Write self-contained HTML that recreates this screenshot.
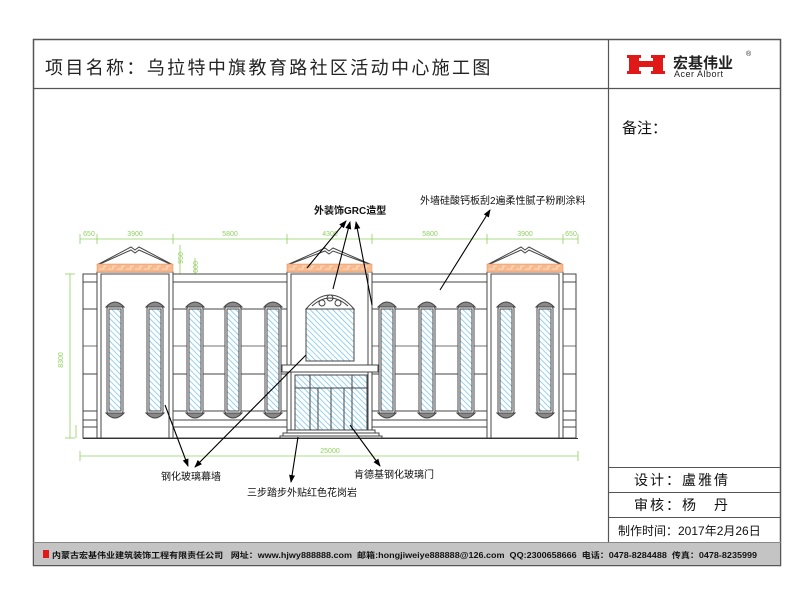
<!DOCTYPE html>
<html><head><meta charset="utf-8"><style>
body{margin:0;background:#fff;}
svg{display:block;}
text{font-family:"Liberation Sans","Noto Sans CJK SC",sans-serif;}
</style></head><body>
<svg width="800" height="600" viewBox="0 0 800 600" xmlns="http://www.w3.org/2000/svg">
<defs>
<pattern id="h" width="4" height="4" patternUnits="userSpaceOnUse" patternTransform="rotate(-45)">
<line x1="0" y1="0" x2="0" y2="4" stroke="#5cbcec" stroke-width="1.3"/>
</pattern>
<marker id="a" markerWidth="8" markerHeight="8" refX="7" refY="4" orient="auto" markerUnits="userSpaceOnUse"><path d="M0,1 L8,4 L0,7 Z" fill="#000"/></marker>
</defs>
<rect x="0" y="0" width="800" height="600" fill="#fff"/>
<!-- frame -->
<rect x="33.5" y="39.5" width="747" height="526" fill="none" stroke="#555" stroke-width="1.5"/>
<line x1="33" y1="88.5" x2="781" y2="88.5" stroke="#555" stroke-width="1.2"/>
<line x1="608.5" y1="39" x2="608.5" y2="542" stroke="#555" stroke-width="1.2"/>
<line x1="608" y1="467.5" x2="781" y2="467.5" stroke="#555"/>
<line x1="608" y1="492.5" x2="781" y2="492.5" stroke="#555"/>
<line x1="608" y1="517.5" x2="781" y2="517.5" stroke="#555"/>
<rect x="34" y="542" width="746" height="23" fill="#c4c4c4"/>
<line x1="33" y1="542.5" x2="781" y2="542.5" stroke="#888"/>
<text x="45" y="74" font-size="18" letter-spacing="4.6" fill="#222" font-family="Noto Serif CJK SC, serif" textLength="450" lengthAdjust="spacing">项目名称：乌拉特中旗教育路社区活动中心施工图</text>
<!-- logo -->
<g fill="#e01818">
<rect x="629" y="55" width="10" height="19"/><rect x="653" y="55" width="10" height="19"/>
<rect x="627" y="55" width="14" height="3"/><rect x="651" y="55" width="14" height="3"/>
<rect x="627" y="71" width="14" height="3"/><rect x="651" y="71" width="14" height="3"/>
<rect x="639" y="61" width="14" height="6"/>
</g>
<text x="673" y="68" font-size="15" font-weight="bold" fill="#222" font-family="Noto Serif CJK SC, serif">宏基伟业</text>
<text x="746" y="56" font-size="7" fill="#222">®</text>
<text x="674" y="77" font-size="9" fill="#222" letter-spacing="0.5">Acer Albort</text>
<text x="622" y="133" font-size="15" fill="#111">备注：</text>
<text x="634" y="485" font-size="14" fill="#111" letter-spacing="2">设计：盧雅倩</text>
<text x="634" y="510" font-size="14" fill="#111" letter-spacing="2">审核：杨　丹</text>
<text x="618" y="535" font-size="12" fill="#111">制作时间：2017年2月26日</text>
<!-- footer -->
<rect x="43" y="550" width="6" height="8" fill="#e01818"/>
<text x="52" y="558" font-size="8" fill="#111" font-weight="bold" textLength="705" lengthAdjust="spacingAndGlyphs" xml:space="preserve">内蒙古宏基伟业建筑装饰工程有限责任公司   网址：www.hjwy888888.com  邮箱:hongjiweiye888888@126.com  QQ:2300658666  电话：0478-8284488  传真：0478-8235999</text>

<!-- dimensions (green) -->
<g stroke="#8fd060" stroke-width="0.8" fill="none">
<line x1="80" y1="239" x2="578" y2="239"/>
<line x1="80" y1="456" x2="578" y2="456"/>
<line x1="70" y1="274" x2="70" y2="438"/>
<line x1="80" y1="234" x2="80" y2="244"/><line x1="97" y1="234" x2="97" y2="244"/><line x1="173" y1="234" x2="173" y2="244"/><line x1="287" y1="234" x2="287" y2="244"/><line x1="372" y1="234" x2="372" y2="244"/><line x1="487" y1="234" x2="487" y2="244"/><line x1="563" y1="234" x2="563" y2="244"/><line x1="578" y1="234" x2="578" y2="244"/>
<line x1="80" y1="451" x2="80" y2="461"/><line x1="578" y1="451" x2="578" y2="461"/>
<line x1="65" y1="274" x2="75" y2="274"/><line x1="65" y1="438" x2="75" y2="438"/>
<line x1="83" y1="297" x2="140" y2="297"/><line x1="173" y1="293" x2="215" y2="293"/><line x1="306" y1="283" x2="354" y2="283"/>
<line x1="125" y1="309" x2="125" y2="411"/><line x1="360" y1="309" x2="360" y2="360"/>
<line x1="180" y1="245" x2="180" y2="275"/><line x1="195" y1="258" x2="195" y2="275"/>
<line x1="122" y1="424" x2="148" y2="424"/><line x1="295" y1="436" x2="367" y2="436"/>
<line x1="89" y1="418" x2="89" y2="438"/><line x1="76" y1="425" x2="76" y2="438"/>
</g>
<g fill="#8fd060" font-size="7" text-anchor="middle">
<text x="89" y="236">650</text><text x="135" y="236">3900</text><text x="230" y="236">5800</text><text x="330" y="236">4300</text><text x="430" y="236">5800</text><text x="525" y="236">3900</text><text x="571" y="236">650</text>
<text x="330" y="453">25000</text>
<text x="95" y="295">1200</text><text x="118" y="295">800</text><text x="135" y="295">1200</text>
<text x="195" y="291">250 1175</text><text x="185" y="300">725</text>
<text x="330" y="281">2350</text>
<text x="280" y="295">350</text><text x="290" y="355">250</text>
<text x="135" y="422">1200</text>
<text x="330" y="434">5100</text>
<text x="63" y="360" transform="rotate(-90 63 360)">8300</text>
<text x="122" y="360" transform="rotate(-90 122 360)">5100</text>
<text x="363" y="335" transform="rotate(-90 363 335)">2520</text>
<text x="183" y="258" transform="rotate(-90 183 258)">950</text>
<text x="198" y="267" transform="rotate(-90 198 267)">600</text>
<text x="292" y="400" transform="rotate(-90 292 400)">2250</text>
</g>

<!-- building -->
<g stroke="#444" stroke-width="1" fill="none">
<rect x="83" y="274" width="493" height="164" fill="#fff"/>
<line x1="83" y1="282" x2="576" y2="282"/>
<line x1="83" y1="309" x2="576" y2="309"/>
<line x1="83" y1="346" x2="576" y2="346" stroke-width="0.8"/>
<line x1="83" y1="374" x2="576" y2="374"/>
<line x1="83" y1="411" x2="576" y2="411"/>
<line x1="83" y1="420" x2="576" y2="420"/>
<line x1="83" y1="427" x2="576" y2="427"/>
<rect x="97" y="272" width="76" height="166" fill="#fff"/>
<rect x="101" y="274" width="68" height="164"/>
<rect x="287" y="272" width="85" height="166" fill="#fff"/>
<rect x="291" y="274" width="77" height="164"/>
<rect x="487" y="272" width="76" height="166" fill="#fff"/>
<rect x="491" y="274" width="68" height="164"/>
<polyline points="97,265 131,247 135,250 139,247 173,265" /><polyline points="100,264 131,250 135,253 139,250 170,264"/>
<polyline points="287,265 325,248 329,251 333,248 372,265" /><polyline points="290,264 325,251 329,254 333,251 369,264"/>
<polyline points="487,265 521,247 525,250 529,247 563,265" /><polyline points="490,264 521,250 525,253 529,250 560,264"/>
</g>
<g fill="#f7b98e" stroke="#e08a50" stroke-width="0.5">
<rect x="97" y="264" width="76" height="8"/>
<rect x="287" y="264" width="85" height="8"/>
<rect x="487" y="264" width="76" height="8"/>
</g>
<g stroke="#fff" stroke-width="0.6" fill="none">
<path d="M99,269 h5 v-3 h3 M108,269 h5 v-3 h3 M117,269 h5 v-3 h3 M126,269 h5 v-3 h3 M135,269 h5 v-3 h3 M144,269 h5 v-3 h3 M153,269 h5 v-3 h3 M162,269 h5 v-3 h3"/>
<path d="M289,269 h5 v-3 h3 M298,269 h5 v-3 h3 M307,269 h5 v-3 h3 M316,269 h5 v-3 h3 M325,269 h5 v-3 h3 M334,269 h5 v-3 h3 M343,269 h5 v-3 h3 M352,269 h5 v-3 h3 M361,269 h5 v-3 h3"/>
<path d="M489,269 h5 v-3 h3 M498,269 h5 v-3 h3 M507,269 h5 v-3 h3 M516,269 h5 v-3 h3 M525,269 h5 v-3 h3 M534,269 h5 v-3 h3 M543,269 h5 v-3 h3 M552,269 h5 v-3 h3"/>
</g>
<!-- windows -->
<g stroke="#444" stroke-width="1">
<g id="w"><rect x="107" y="305" width="16" height="110" rx="4" fill="#fff"/><rect x="109" y="309" width="12" height="102" fill="url(#h)"/><path d="M106,307 q9,-10 18,0 z M106,413 q9,10 18,0 z" fill="#888"/></g>
<use href="#w" x="40"/><use href="#w" x="80"/><use href="#w" x="118"/><use href="#w" x="158"/>
<use href="#w" x="272"/><use href="#w" x="312"/><use href="#w" x="351"/><use href="#w" x="391"/><use href="#w" x="430"/>
<rect x="306" y="309" width="48" height="52" fill="url(#h)"/>
<rect x="306" y="309" width="48" height="52" fill="none"/>
<path d="M306,309 q24,-28 48,0 z" fill="#fff"/>
<path d="M312,306 q18,-16 36,0" fill="none"/><circle cx="322" cy="303" r="3" fill="none"/><circle cx="338" cy="303" r="3" fill="none"/><circle cx="330" cy="298" r="3" fill="none"/>
<rect x="282" y="365" width="96" height="7" fill="#fff"/>
<rect x="295" y="375" width="72" height="55" fill="url(#h)"/>
<rect x="295" y="375" width="72" height="55" fill="none"/>
<line x1="295" y1="388" x2="367" y2="388"/>
<line x1="310" y1="375" x2="310" y2="430"/><line x1="352" y1="375" x2="352" y2="430"/>
<line x1="318" y1="388" x2="318" y2="430"/><line x1="331" y1="388" x2="331" y2="430"/><line x1="344" y1="388" x2="344" y2="430"/>
<rect x="287" y="430" width="88" height="3" fill="#fff"/><rect x="283" y="433" width="96" height="3" fill="#fff"/><rect x="280" y="436" width="102" height="2" fill="#fff"/>
</g>
<line x1="83" y1="438.5" x2="578" y2="438.5" stroke="#333" stroke-width="1"/>

<!-- annotations -->
<g stroke="#000" stroke-width="1.1" fill="none" marker-end="url(#a)">
<line x1="307" y1="268" x2="346" y2="221"/>
<line x1="333" y1="289" x2="350" y2="222"/>
<line x1="372" y1="305" x2="356" y2="222"/>
<line x1="440" y1="290" x2="490" y2="210"/>
<line x1="165" y1="405" x2="188" y2="466"/>
<line x1="306" y1="355" x2="195" y2="467"/>
<line x1="298" y1="437" x2="291" y2="482"/>
<line x1="350" y1="425" x2="380" y2="466"/>
</g>
<g font-size="10" fill="#111">
<text x="314" y="214" font-weight="bold">外装饰GRC造型</text>
<text x="420" y="204">外墙硅酸钙板刮2遍柔性腻子粉刷涂料</text>
<text x="161" y="480">钢化玻璃幕墙</text>
<text x="247" y="496">三步踏步外贴红色花岗岩</text>
<text x="354" y="478">肯德基钢化玻璃门</text>
</g>
</svg>
</body></html>
